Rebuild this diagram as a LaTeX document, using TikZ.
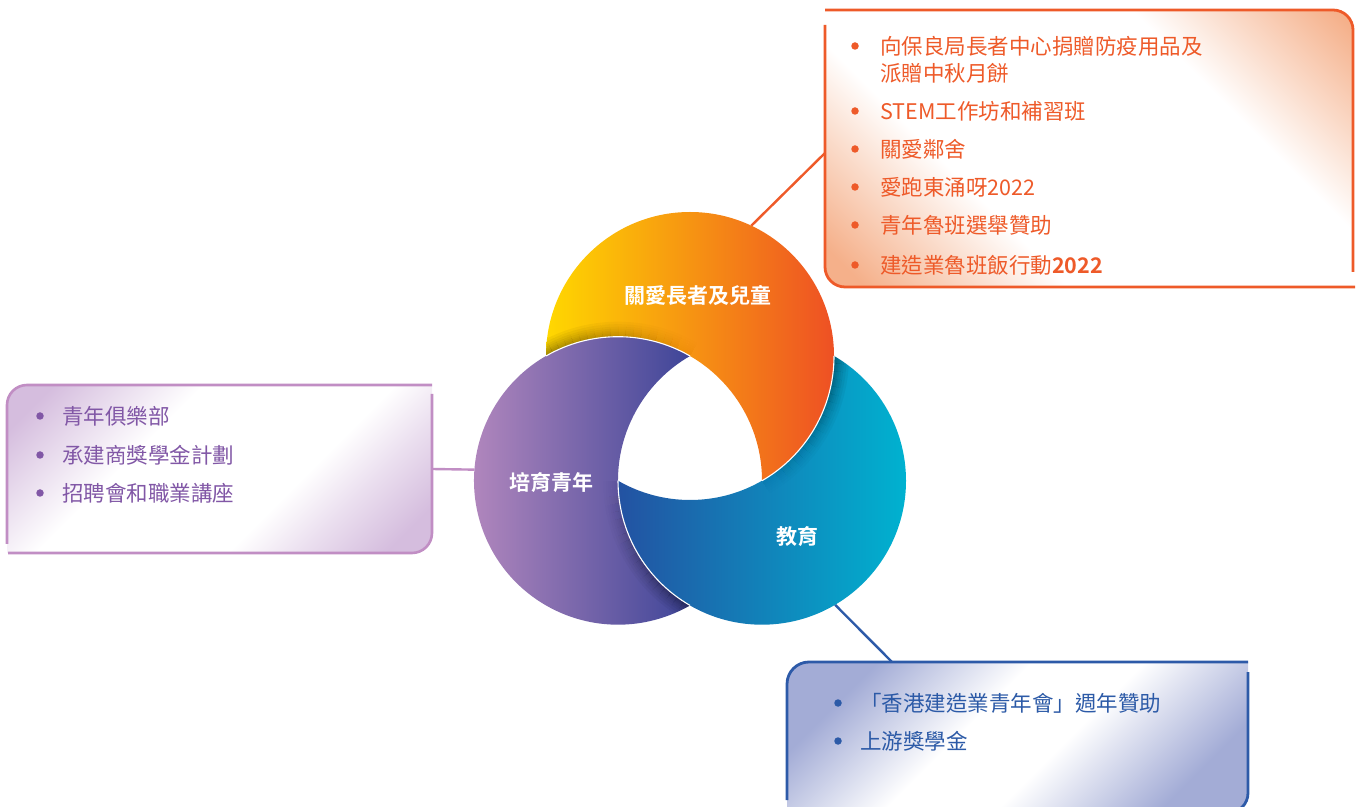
\documentclass[tikz,border=0pt]{standalone}
\usepackage{fontspec}
\setmainfont{Noto Sans CJK TC}[BoldFont={Noto Sans CJK TC Bold}]
\usetikzlibrary{calc}
\definecolor{oline}{HTML}{EE5A29}
\definecolor{ofill}{HTML}{F5B08A}
\definecolor{pline}{HTML}{C18EC4}
\definecolor{ptext}{HTML}{8157A6}
\definecolor{pfill}{HTML}{D5BDDE}
\definecolor{bline}{HTML}{2D5AA8}
\definecolor{btext}{HTML}{2C5AA7}
\definecolor{bfill}{HTML}{A3ACD6}
\definecolor{oA}{HTML}{FFD800}
\definecolor{oB}{HTML}{F48B20}
\definecolor{oC}{HTML}{EE5024}
\definecolor{pA}{HTML}{BB8CC0}
\definecolor{pB}{HTML}{8A6AAF}
\definecolor{pC}{HTML}{3E4598}
\definecolor{bA}{HTML}{2352A2}
\definecolor{bB}{HTML}{0779B7}
\definecolor{bC}{HTML}{00B2D0}
\colorlet{ofillL}{ofill!45!white}
\colorlet{pfillL}{pfill!50!white}
\pgfdeclareverticalshading{oband}{100bp}{color(0bp)=(ofill); color(18bp)=(ofill); color(28bp)=(ofillL); color(36bp)=(white); color(66bp)=(white); color(74bp)=(ofillL); color(84bp)=(ofill); color(100bp)=(ofill)}
\pgfdeclareverticalshading{pband}{100bp}{color(0bp)=(pfill); color(20bp)=(pfill); color(30bp)=(pfillL); color(39bp)=(white); color(62bp)=(white); color(71bp)=(pfillL); color(80bp)=(pfill); color(100bp)=(pfill)}
\pgfdeclareverticalshading{bband}{100bp}{color(0bp)=(bfill); color(25bp)=(bfill); color(44bp)=(white); color(57bp)=(white); color(75bp)=(bfill); color(100bp)=(bfill)}
\newcommand\orangeregion{(546,450) arc[start angle=180,end angle=-60,radius=144] arc[start angle=0,end angle=120,radius=144] -- cycle}
\newcommand\purpleregion{(690,450) arc[start angle=60,end angle=300,radius=144] arc[start angle=240,end angle=120,radius=144] -- cycle}
\newcommand\blueregion{(618,325.3) arc[start angle=180,end angle=420,radius=144] arc[start angle=0,end angle=-120,radius=144] -- cycle}
\tikzset{
  frameO/.style={draw=oline, line width=2.8pt},
  frameP/.style={draw=pline, line width=2.6pt},
  frameB/.style={draw=bline, line width=2.8pt},
  listtxt/.style={anchor=west, inner sep=0pt, font=\fontsize{21.5}{27}\selectfont},
  bul/.style={circle, inner sep=0pt, minimum size=7.5pt},
  lbl/.style={text=white, inner sep=0pt, font=\bfseries\fontsize{21}{25}\selectfont},
  edgeline/.style={draw=white, line width=1.1pt},
}
\begin{document}
\begin{tikzpicture}[x=1pt,y=1pt]
\useasboundingbox (0,0) rectangle (1362,806);
\clip (0,0) rectangle (1362,806);
% ---------- box fills ----------
\shade[shading=oband, shading angle=-45]
  (825,796) -- (1333,796) arc[start angle=90,end angle=0,radius=20] -- (1353,519) -- (845,519) arc[start angle=270,end angle=180,radius=20] -- cycle;
\shade[shading=pband, shading angle=45]
  (7,401) arc[start angle=180,end angle=90,radius=20] -- (432,421) -- (432,273) arc[start angle=0,end angle=-90,radius=20] -- (7,253) -- cycle;
\shade[shading=bband, shading angle=45]
  (787,122) arc[start angle=180,end angle=90,radius=22] -- (1248,144) -- (1248,13) arc[start angle=0,end angle=-90,radius=20] -- (787,-7) -- cycle;
% ---------- coordinates ----------
\coordinate (Oc) at (690,450);
\coordinate (Pc) at (618,325.3);
\coordinate (Bc) at (762,325.3);
\coordinate (oAttach) at ($(Oc)+(64.8:144)$);
\coordinate (oBoxIn) at (825,653);
\coordinate (pAttach) at ($(Pc)+(175.6:144)$);
\coordinate (pBoxIn) at (432,337);
\coordinate (bAttach) at ($(Bc)+(-59.5:144)$);
\coordinate (bBoxIn) at (892,144);
% ---------- connectors ----------
\draw[oline, line width=2.4pt] (oAttach) -- (oBoxIn);
\draw[pline, line width=2.4pt] (pAttach) -- (pBoxIn);
\draw[bline, line width=2.4pt] (bAttach) -- (bBoxIn);
% ---------- circle regions ----------
\shade[left color=oA, middle color=oB, right color=oC] \orangeregion;
\shade[left color=pA, middle color=pB, right color=pC] \purpleregion;
\shade[left color=bA, middle color=bB, right color=bC] \blueregion;
% shadows
\begin{scope}
\clip \orangeregion;
\foreach \i in {0,...,19}{
  \pgfmathsetmacro\sa{120-3*\i}
  \pgfmathsetmacro\ea{\sa-3.05}
  \pgfmathsetmacro\op{1-\i/20}
  \foreach \w in {3,6,9,12,16,20,25,30}{
    \pgfmathsetmacro\oo{0.05*\op}
    \draw[black, line width=\w pt, opacity=\oo] ($(Pc)+(\sa:144)$) arc[start angle=\sa,end angle=\ea,radius=144];
  }
}
\end{scope}
\begin{scope}
\clip \blueregion;
\foreach \i in {0,...,19}{
  \pgfmathsetmacro\sa{0-3*\i}
  \pgfmathsetmacro\ea{\sa-3.05}
  \pgfmathsetmacro\op{1-\i/20}
  \foreach \w in {3,6,9,12,16,20,25,30}{
    \pgfmathsetmacro\oo{0.05*\op}
    \draw[black, line width=\w pt, opacity=\oo] ($(Oc)+(\sa:144)$) arc[start angle=\sa,end angle=\ea,radius=144];
  }
}
\end{scope}
\begin{scope}
\clip \purpleregion;
\foreach \i in {0,...,19}{
  \pgfmathsetmacro\sa{240-3*\i}
  \pgfmathsetmacro\ea{\sa-3.05}
  \pgfmathsetmacro\op{1-\i/20}
  \foreach \w in {3,6,9,12,16,20,25,30}{
    \pgfmathsetmacro\oo{0.05*\op}
    \draw[black, line width=\w pt, opacity=\oo] ($(Bc)+(\sa:144)$) arc[start angle=\sa,end angle=\ea,radius=144];
  }
}
\end{scope}
% white edges
\draw[edgeline] ($(Pc)+(120:144)$) arc[start angle=120,end angle=60,radius=144];
\draw[edgeline] ($(Oc)+(0:144)$) arc[start angle=0,end angle=-60,radius=144];
\draw[edgeline] ($(Bc)+(240:144)$) arc[start angle=240,end angle=180,radius=144];
% labels in circles
\node[lbl] (lblO) at (698,510) {關愛長者及兒童};
\node[lbl] (lblP) at (551,323) {培育青年};
\node[lbl] (lblB) at (797,269) {教育};
% ---------- frames ----------
\draw[frameO] (825,796) -- (1333,796) arc[start angle=90,end angle=0,radius=20] -- (1353,534);
\draw[frameO] (825,781) -- (825,539) arc[start angle=180,end angle=270,radius=20] -- (1355,519);
\draw[frameP] (7,262) -- (7,401) arc[start angle=180,end angle=90,radius=20] -- (432,421);
\draw[frameP] (432,412) -- (432,273) arc[start angle=0,end angle=-90,radius=20] -- (8,253);
\draw[frameB] (787,6) -- (787,122) arc[start angle=180,end angle=90,radius=22] -- (1248,144);
\draw[frameB] (1248,134) -- (1248,13) arc[start angle=0,end angle=-90,radius=20] -- (800,-7);
% ---------- orange list ----------
\node[bul, fill=oline] (ob1) at (855,760) {};
\node[listtxt, text=oline, align=left] (ot1) at (880,746.5) {向保良局長者中心捐贈防疫用品及\\派贈中秋月餅};
\node[bul, fill=oline] (ob2) at (855,695) {};
\node[listtxt, text=oline] (ot2) at (880,695) {STEM工作坊和補習班};
\node[bul, fill=oline] (ob3) at (855,657) {};
\node[listtxt, text=oline] (ot3) at (880,657) {關愛鄰舍};
\node[bul, fill=oline] (ob4) at (855,619) {};
\node[listtxt, text=oline] (ot4) at (880,619) {愛跑東涌呀2022};
\node[bul, fill=oline] (ob5) at (855,581) {};
\node[listtxt, text=oline] (ot5) at (880,581) {青年魯班選舉贊助};
\node[bul, fill=oline] (ob6) at (855,541) {};
\node[listtxt, text=oline] (ot6) at (880,541) {建造業魯班飯行動\textbf{2022}};
% ---------- purple list ----------
\node[bul, fill=ptext] (pb1) at (40,390) {};
\node[listtxt, text=ptext] (pt1) at (62,390) {青年俱樂部};
\node[bul, fill=ptext] (pb2) at (40,351) {};
\node[listtxt, text=ptext] (pt2) at (62,351) {承建商獎學金計劃};
\node[bul, fill=ptext] (pb3) at (40,313) {};
\node[listtxt, text=ptext] (pt3) at (62,313) {招聘會和職業講座};
% ---------- blue list ----------
\node[bul, fill=btext] (bb1) at (838,103) {};
\node[listtxt, text=btext] (bt1) at (860,103) {「香港建造業青年會」週年贊助};
\node[bul, fill=btext] (bb2) at (838,65) {};
\node[listtxt, text=btext] (bt2) at (860,65) {上游獎學金};
\end{tikzpicture}
\end{document}
